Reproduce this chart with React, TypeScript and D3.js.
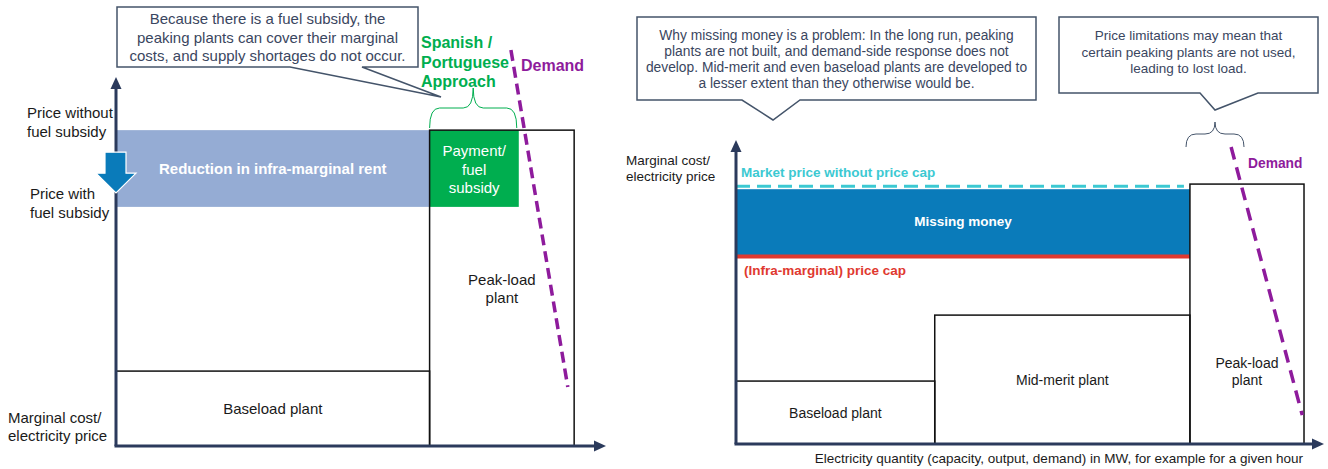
import React from "react";
import * as d3 from "d3";

// ---------- data (abstract units: capacity 0-100, price 0-100) ----------
const leftPlantNames = ["Baseload plant", "Peak-load plant"];
const leftPlantStart = [0, 64];
const leftPlantEnd = [64, 93.5];
const leftPlantCost = [20.3, 85.6];
const leftPriceWithSubsidy = 64.8;
const leftSubsidyEnd = 82.2;
const leftDemandX = [80.6, 92.2];
const leftDemandY = [107.3, 16];

const rightPlantNames = ["Baseload plant", "Mid-merit plant", "Peak-load plant"];
const rightPlantStart = [0, 33.8, 77.2];
const rightPlantEnd = [33.8, 77.2, 96.6];
const rightPlantCost = [20.7, 42.4, 85.5];
const rightMarketPrice = 84.8;
const rightPriceCap = 62;
const rightDemandX = [84.2, 96.3];
const rightDemandY = [97.7, 9.5];

const leftCallout = [
  "Because there is a fuel subsidy, the",
  "peaking plants can cover their marginal",
  "costs, and supply shortages do not occur.",
];
const rightCallout1 = [
  "Why missing money is a problem: In the long run, peaking",
  "plants are not built, and demand-side response does not",
  "develop. Mid-merit and even baseload plants are developed to",
  "a lesser extent than they otherwise would be.",
];
const rightCallout2 = [
  "Price limitations may mean that",
  "certain peaking plants are not used,",
  "leading to lost load.",
];

const FONT = "'Liberation Sans', Arial, sans-serif";
const NAVY = "#2B3A5C";
const SLATE = "#44546A";
const CALLTXT = "#3A4660";
const PURPLE = "#8E1B9C";
const GREEN = "#00AE4F";
const LIGHTBLUE = "#95ACD4";
const DARKBLUE = "#0A7BBA";
const CYAN = "#3CC9D2";
const RED = "#E0392F";

function calloutPath(l: number, t: number, r: number, b: number, p1: number, p2: number, tx: number, ty: number) {
  return `M${l},${t}H${r}V${b}H${p2}L${tx},${ty}L${p1},${b}H${l}Z`;
}

function bracePath(x0: number, x1: number, yb: number, yh: number, yt: number) {
  const m = (x0 + x1) / 2;
  const r = 10;
  return `M${x0},${yb}Q${x0},${yh} ${x0 + r},${yh}H${m - r}Q${m},${yh} ${m},${yt}Q${m},${yh} ${m + r},${yh}H${x1 - r}Q${x1},${yh} ${x1},${yb}`;
}

function Lines({ lines, x, y, dy, size, fill, weight, anchor }: any) {
  return (
    <text x={x} y={y} fontSize={size} fill={fill} fontWeight={weight || "normal"} textAnchor={anchor || "middle"} fontFamily={FONT}>
      {lines.map((s: string, i: number) => (
        <tspan key={i} x={x} y={y + i * dy}>{s}</tspan>
      ))}
    </text>
  );
}

export default function App() {
  // left panel scales
  const lx = d3.scaleLinear().domain([0, 100]).range([116, 606]);
  const ly = d3.scaleLinear().domain([0, 100]).range([446, 77]);
  // right panel scales
  const rx = d3.scaleLinear().domain([0, 100]).range([736, 1324]);
  const ry = d3.scaleLinear().domain([0, 100]).range([444, 140]);

  const line = d3.line<[number, number]>();

  const lAxisX0 = lx(0), lAxisY0 = ly(0);
  const rAxisX0 = rx(0), rAxisY0 = ry(0);

  return (
    <svg width={1328} height={469} style={{ position: "absolute", left: 0, top: 0 }} fontFamily={FONT}>
      <rect width={1328} height={469} fill="#fff" />

      {/* ================= LEFT PANEL ================= */}
      <rect x={lx(0)} y={ly(leftPlantCost[1])} width={lx(leftPlantStart[1]) - lx(0)} height={ly(leftPriceWithSubsidy) - ly(leftPlantCost[1])} fill={LIGHTBLUE} />
      <text x={(lx(0) + lx(leftPlantStart[1])) / 2} y={(ly(leftPlantCost[1]) + ly(leftPriceWithSubsidy)) / 2 + 5} fontSize={15} fontWeight="bold" fill="#fff" textAnchor="middle">Reduction in infra-marginal rent</text>
      <rect x={lx(leftPlantStart[1])} y={ly(leftPlantCost[1])} width={lx(leftSubsidyEnd) - lx(leftPlantStart[1])} height={ly(leftPriceWithSubsidy) - ly(leftPlantCost[1])} fill={GREEN} />
      <Lines lines={["Payment/", "fuel", "subsidy"]} x={(lx(leftPlantStart[1]) + lx(leftSubsidyEnd)) / 2} y={156} dy={18.5} size={15} fill="#fff" />

      {leftPlantNames.map((n, i) => (
        <rect key={n} x={lx(leftPlantStart[i])} y={ly(leftPlantCost[i])} width={lx(leftPlantEnd[i]) - lx(leftPlantStart[i])} height={ly(0) - ly(leftPlantCost[i])} fill="none" stroke="#111" strokeWidth={1.5} />
      ))}
      <text x={(lx(leftPlantStart[0]) + lx(leftPlantEnd[0])) / 2} y={(ly(leftPlantCost[0]) + ly(0)) / 2 + 5} fontSize={15} fill="#1a1a1a" textAnchor="middle">{leftPlantNames[0]}</text>
      <Lines lines={["Peak-load", "plant"]} x={(lx(leftPlantStart[1]) + lx(leftPlantEnd[1])) / 2} y={285} dy={18} size={15} fill="#1a1a1a" />

      <path d={line([[lx(leftDemandX[0]), ly(leftDemandY[0])], [lx(leftDemandX[1]), ly(leftDemandY[1])]]) || ""} stroke={PURPLE} strokeWidth={3.5} strokeDasharray="11 6" fill="none" />
      <text x={521} y={71} fontSize={16} fontWeight="bold" fill={PURPLE}>Demand</text>

      <Lines lines={["Spanish /", "Portuguese", "Approach"]} x={421} y={48} dy={19.5} size={16} fill={GREEN} weight="bold" anchor="start" />
      <path d={bracePath(lx(leftPlantStart[1]), lx(leftSubsidyEnd) - 2, 128, 108, 88)} stroke={GREEN} strokeWidth={1} fill="none" />

      <path d={calloutPath(117, 7, 418, 67, 290, 362, 441, 97)} fill="#fff" stroke={SLATE} strokeWidth={1.5} />
      <Lines lines={leftCallout} x={267.5} y={24} dy={18.5} size={15} fill={CALLTXT} />

      <line x1={lAxisX0} y1={lAxisY0} x2={lAxisX0} y2={ly(100) + 10} stroke={NAVY} strokeWidth={3} />
      <path d={`M${lAxisX0 - 5.5},${ly(100) + 12}L${lAxisX0},${ly(100)}L${lAxisX0 + 5.5},${ly(100) + 12}Z`} fill={NAVY} />
      <line x1={lAxisX0 - 1.5} y1={lAxisY0} x2={lx(100) - 10} y2={lAxisY0} stroke={NAVY} strokeWidth={3} />
      <path d={`M${lx(100) - 12},${lAxisY0 - 5.5}L${lx(100)},${lAxisY0}L${lx(100) - 12},${lAxisY0 + 5.5}Z`} fill={NAVY} />

      <path d={`M${lAxisX0 - 11},${ly(leftPlantCost[1]) + 22}H${lAxisX0 + 10}V${ly(leftPlantCost[1]) + 43}H${lAxisX0 + 20}L${lAxisX0},${ly(leftPriceWithSubsidy) - 14}L${lAxisX0 - 20},${ly(leftPlantCost[1]) + 43}H${lAxisX0 - 11}Z`} fill={DARKBLUE} stroke="#fff" strokeWidth={1.2} />

      <Lines lines={["Price without", "fuel subsidy"]} x={27} y={118} dy={18.5} size={15} fill="#1a1a1a" anchor="start" />
      <Lines lines={["Price with", "fuel subsidy"]} x={30} y={199} dy={18.5} size={15} fill="#1a1a1a" anchor="start" />
      <Lines lines={["Marginal cost/", "electricity price"]} x={8} y={423} dy={18} size={15} fill="#1a1a1a" anchor="start" />

      {/* ================= RIGHT PANEL ================= */}
      <rect x={rx(0)} y={ry(rightMarketPrice) + 3} width={rx(rightPlantStart[2]) - rx(0)} height={ry(rightPriceCap) - ry(rightMarketPrice) - 3} fill={DARKBLUE} />
      <text x={(rx(0) + rx(rightPlantStart[2])) / 2} y={(ry(rightMarketPrice) + ry(rightPriceCap)) / 2 + 5} fontSize={13.5} fontWeight="bold" fill="#fff" textAnchor="middle">Missing money</text>
      <line x1={rx(0)} x2={rx(rightPlantStart[2])} y1={ry(rightPriceCap) + 1} y2={ry(rightPriceCap) + 1} stroke={RED} strokeWidth={4} />
      <line x1={rx(0)} x2={rx(rightPlantStart[2]) - 6} y1={ry(rightMarketPrice)} y2={ry(rightMarketPrice)} stroke={CYAN} strokeWidth={3} strokeDasharray="14 7" />
      <text x={741} y={177} fontSize={13.5} fontWeight="bold" fill={CYAN}>Market price without price cap</text>
      <text x={744} y={275} fontSize={13.5} fontWeight="bold" fill={RED}>(Infra-marginal) price cap</text>

      {rightPlantNames.map((n, i) => (
        <rect key={n} x={rx(rightPlantStart[i])} y={ry(rightPlantCost[i])} width={rx(rightPlantEnd[i]) - rx(rightPlantStart[i])} height={ry(0) - ry(rightPlantCost[i])} fill="none" stroke="#111" strokeWidth={1.5} />
      ))}
      <text x={(rx(rightPlantStart[0]) + rx(rightPlantEnd[0])) / 2} y={(ry(rightPlantCost[0]) + ry(0)) / 2 + 5} fontSize={14} fill="#1a1a1a" textAnchor="middle">{rightPlantNames[0]}</text>
      <text x={(rx(rightPlantStart[1]) + rx(rightPlantEnd[1])) / 2} y={(ry(rightPlantCost[1]) + ry(0)) / 2 + 5} fontSize={14} fill="#1a1a1a" textAnchor="middle">{rightPlantNames[1]}</text>
      <Lines lines={["Peak-load", "plant"]} x={(rx(rightPlantStart[2]) + rx(rightPlantEnd[2])) / 2} y={368} dy={16.5} size={14} fill="#1a1a1a" />

      <path d={line([[rx(rightDemandX[0]), ry(rightDemandY[0])], [rx(rightDemandX[1]), ry(rightDemandY[1])]]) || ""} stroke={PURPLE} strokeWidth={3.5} strokeDasharray="13 8" fill="none" />
      <text x={1248} y={168} fontSize={13.8} fontWeight="bold" fill={PURPLE}>Demand</text>
      <path d={bracePath(1186, 1244, 147, 134, 122)} stroke={SLATE} strokeWidth={1} fill="none" />

      <path d={calloutPath(637, 17, 1036, 100, 742, 800, 773, 120)} fill="#fff" stroke={SLATE} strokeWidth={1.5} />
      <Lines lines={rightCallout1} x={836.5} y={40} dy={16} size={13.8} fill={CALLTXT} />
      <path d={calloutPath(1059, 17, 1318, 93, 1200, 1258, 1215, 110)} fill="#fff" stroke={SLATE} strokeWidth={1.5} />
      <Lines lines={rightCallout2} x={1188.5} y={40} dy={16.5} size={13.5} fill={CALLTXT} />

      <line x1={rAxisX0} y1={rAxisY0} x2={rAxisX0} y2={ry(100) + 10} stroke={NAVY} strokeWidth={3} />
      <path d={`M${rAxisX0 - 5.5},${ry(100) + 12}L${rAxisX0},${ry(100)}L${rAxisX0 + 5.5},${ry(100) + 12}Z`} fill={NAVY} />
      <line x1={rAxisX0 - 1.5} y1={rAxisY0} x2={rx(100) - 10} y2={rAxisY0} stroke={NAVY} strokeWidth={3} />
      <path d={`M${rx(100) - 12},${rAxisY0 - 5.5}L${rx(100)},${rAxisY0}L${rx(100) - 12},${rAxisY0 + 5.5}Z`} fill={NAVY} />

      <Lines lines={["Marginal cost/", "electricity price"]} x={626} y={165} dy={16} size={13.5} fill="#1a1a1a" anchor="start" />
      <text x={1303} y={463} fontSize={13.5} fill="#1a1a1a" textAnchor="end">Electricity quantity (capacity, output, demand) in MW, for example for a given hour</text>
    </svg>
  );
}
